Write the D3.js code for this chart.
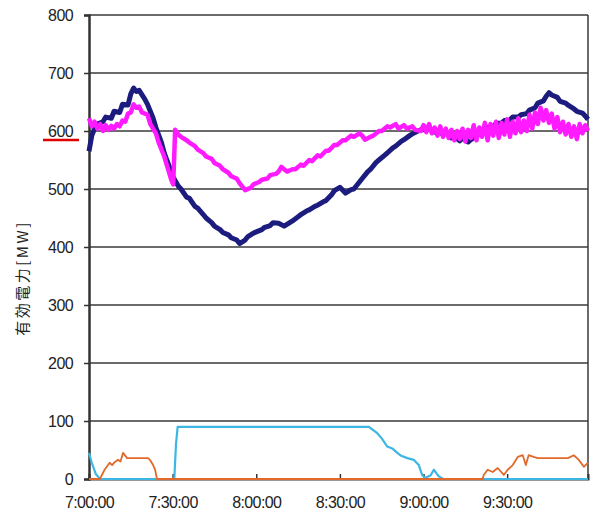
<!DOCTYPE html>
<html>
<head>
<meta charset="utf-8">
<script src="https://cdn.jsdelivr.net/npm/d3@7"></script>
<style>
  body { margin: 0; background: #fff; }
  text { font-family: "Liberation Sans", Arial, sans-serif; fill: #222; }
</style>
</head>
<body>
<div id="chart"></div>
<script>
// minutes after 7:00 and active power in MW
var navyMin = [0, 1, 2, 3, 5, 6, 8, 9, 11, 12, 14, 15, 16, 17, 18, 20, 21, 23, 24, 26, 27, 29, 30, 32, 33, 35, 36, 38, 39, 41, 42, 44, 45, 47, 48, 50, 51, 53, 54, 56, 57, 59, 60, 62, 63, 65, 66, 68, 70, 72, 73, 75, 76, 78, 79, 81, 82, 84, 85, 87, 88, 90, 92, 94, 95, 97, 98, 100, 101, 103, 104, 106, 107, 109, 110, 112, 113, 115, 116, 118, 119, 121, 122, 124, 125, 127, 128, 130, 131, 133, 134, 136, 137, 139, 140, 142, 143, 145, 146, 148, 149, 151, 152, 154, 155, 157, 158, 160, 161, 163, 164, 165, 166, 168, 169, 171, 172, 174, 175, 177, 178, 179];
var navyMW  = [565, 592, 604, 612, 616, 624, 622, 634, 632, 646, 645, 664, 674, 668, 670, 655, 646, 622, 606, 580, 562, 536, 522, 505, 500, 486, 484, 470, 467, 456, 450, 442, 436, 430, 425, 421, 416, 412, 406, 412, 418, 424, 426, 430, 434, 437, 442, 441, 436, 442, 445, 452, 456, 462, 464, 470, 472, 478, 480, 490, 497, 503, 493, 499, 500, 512, 518, 530, 534, 546, 550, 558, 562, 571, 574, 582, 585, 592, 595, 600, 602, 602, 604, 598, 601, 594, 598, 588, 591, 583, 588, 581, 585, 592, 596, 601, 606, 608, 613, 614, 618, 619, 624, 624, 628, 630, 636, 640, 648, 652, 660, 666, 662, 658, 651, 648, 644, 638, 634, 631, 626, 620];

var magMin = [0, 1, 2, 3, 4, 5, 6, 7, 8, 9, 10, 11, 12, 13, 14, 15, 16, 17, 18, 19, 21, 22, 24, 25, 27, 28, 29.5, 30.2, 30.9, 32, 33, 35, 36, 38, 39, 41, 42, 44, 45, 47, 48, 50, 51, 53, 54, 55, 56, 58, 59, 61, 62, 64, 65, 67, 68, 69, 70, 71, 73, 74, 76, 77, 79, 80, 82, 83, 85, 86, 88, 89, 91, 92, 94, 95, 97, 98, 99, 101, 102, 104, 105, 107, 108, 110, 111, 113, 114, 116, 117,
  119, 120, 121, 122, 123, 124, 125, 126, 127, 128, 129, 130, 131, 132, 133, 134, 135, 136, 137, 138, 139, 140, 141, 142, 143, 144, 145, 146, 147, 148, 149, 150, 151, 152, 153, 154, 155, 156, 157, 158, 159, 160, 161, 162, 163, 164, 165, 166, 167, 168, 169, 170, 171, 172, 173, 174, 175, 176, 177, 178, 179];
var magMW  = [622, 608, 616, 604, 612, 600, 610, 602, 609, 604, 612, 608, 618, 616, 630, 632, 646, 640, 642, 632, 628, 612, 596, 580, 556, 540, 516, 508, 602, 594, 590, 584, 580, 574, 568, 562, 556, 552, 545, 540, 534, 528, 522, 518, 510, 504, 498, 502, 508, 512, 516, 518, 524, 526, 530, 538, 534, 530, 534, 534, 542, 540, 550, 548, 558, 556, 566, 566, 576, 576, 584, 584, 592, 590, 596, 592, 585, 590, 592, 600, 600, 608, 606, 612, 604, 610, 604, 608, 602,
  600, 610, 598, 612, 596, 606, 592, 608, 590, 604, 588, 602, 584, 600, 586, 604, 582, 602, 588, 610, 584, 606, 590, 614, 584, 612, 592, 616, 588, 614, 594, 620, 590, 616, 596, 622, 598, 618, 600, 628, 604, 632, 612, 640, 618, 636, 614, 630, 604, 624, 598, 616, 594, 612, 590, 608, 586, 612, 596, 610, 600];

var cyanMin = [0, 1, 2.5, 4, 30.6, 31.2, 31.8, 100.4, 103.4, 105, 107, 109, 110.6, 112, 114.2, 116.5, 117.5, 118.3, 119.5, 120.5, 122.5, 123.7, 125.4, 127, 179];
var cyanMW  = [45, 28, 8, 0, 0, 60, 90, 90, 79, 70, 56, 52, 45, 40, 36, 33, 28, 24, 7, 2, 6, 16, 5, 0, 0];

var orangeMin = [0, 3.9, 5.6, 6.5, 7.4, 8.3, 9.2, 10.4, 11.3, 12.2, 13.7, 21.2, 22, 23, 23.7, 24.4, 141.2, 141.6, 143, 144.8, 146.6, 148.8, 150.2, 152, 153.8, 155.6, 156.7, 157.7, 159.5, 161, 171.8, 173.9, 175.7, 177.5, 179];
var orangeMW  = [0, 0, 16, 22, 28, 24, 29, 33, 30, 45, 36, 36, 32, 24, 16, 0, 0, 7, 16, 12, 19, 7, 16, 24, 38, 41, 24, 41, 38, 36, 36, 41, 33, 21, 28];

var yTicks = [0, 100, 200, 300, 400, 500, 600, 700, 800];
var xTickMin = [0, 30, 60, 90, 120, 150];
var yTitle = "有効電力[MW]";

var width = 595,
    height = 515,
    margin = {top: 15, right: 7, bottom: 36, left: 89};

var start = new Date(2020, 0, 1, 7, 0, 0);
function toTime(m) { return new Date(start.getTime() + m * 60000); }

var x = d3.scaleTime()
    .domain([start, toTime(179)])
    .range([margin.left, width - margin.right]);
var y = d3.scaleLinear()
    .domain([0, 800])
    .range([height - margin.bottom, margin.top]);

var svg = d3.select("#chart").append("svg")
    .attr("width", width)
    .attr("height", height);

// horizontal grid
svg.append("g")
    .selectAll("line")
    .data(yTicks.filter(function(d) { return d > 0; }))
    .enter().append("line")
    .attr("x1", margin.left)
    .attr("x2", width - margin.right)
    .attr("y1", function(d) { return y(d); })
    .attr("y2", function(d) { return y(d); })
    .style("stroke", "#3a3a3a")
    .style("stroke-width", 1.5);

// right border
svg.append("line")
    .attr("x1", width - margin.right).attr("x2", width - margin.right)
    .attr("y1", y(800)).attr("y2", y(0))
    .style("stroke", "#3a3a3a").style("stroke-width", 1.5);

// y axis
var yAxis = svg.append("g")
    .attr("transform", "translate(" + margin.left + ",0)")
    .call(d3.axisLeft(y).tickValues(yTicks).tickSize(5).tickPadding(11));
yAxis.select(".domain").style("stroke", "#333").style("stroke-width", 2.5);
yAxis.selectAll(".tick line").style("stroke", "#333").style("stroke-width", 1.5);
yAxis.selectAll("text").style("font-size", "16px").style("letter-spacing", "-0.6px").style("fill", "#222");

// x axis with inside ticks
var xAxis = svg.append("g")
    .attr("transform", "translate(0," + y(0) + ")")
    .call(d3.axisBottom(x)
        .tickValues(xTickMin.map(toTime))
        .tickSize(-5)
        .tickPadding(18)
        .tickFormat(d3.timeFormat("%-H:%M:%S")));
xAxis.select(".domain").style("stroke", "#333").style("stroke-width", 2);
xAxis.selectAll(".tick line").style("stroke", "#333").style("stroke-width", 1.5);
xAxis.selectAll("text").style("font-size", "16px").style("letter-spacing", "-0.6px").style("fill", "#222");

// y title
svg.append("text")
    .attr("transform", "translate(28,278) rotate(-90)")
    .attr("text-anchor", "middle")
    .style("font-family", "'Noto Sans CJK JP', sans-serif")
    .style("font-size", "15px")
    .style("letter-spacing", "2.5px")
    .text(yTitle);

// red mark under 600
svg.append("line")
    .attr("x1", 43).attr("x2", 79)
    .attr("y1", y(600) + 9).attr("y2", y(600) + 9)
    .style("stroke", "#e00000").style("stroke-width", 2.5);

var line = d3.line()
    .x(function(d) { return x(toTime(d[0])); })
    .y(function(d) { return y(d[1]); });

function drawSeries(mins, vals, color, w) {
    svg.append("path")
        .datum(d3.zip(mins, vals))
        .attr("d", line)
        .style("fill", "none")
        .style("stroke", color)
        .style("stroke-width", w)
        .style("stroke-linejoin", "round");
}

drawSeries(cyanMin, cyanMW, "#3db6e4", 2.2);
drawSeries(orangeMin, orangeMW, "#e2692c", 1.8);
drawSeries(navyMin, navyMW, "#1c1c7e", 5);
drawSeries(magMin, magMW, "#ff1aff", 4.5);
</script>
</body>
</html>
